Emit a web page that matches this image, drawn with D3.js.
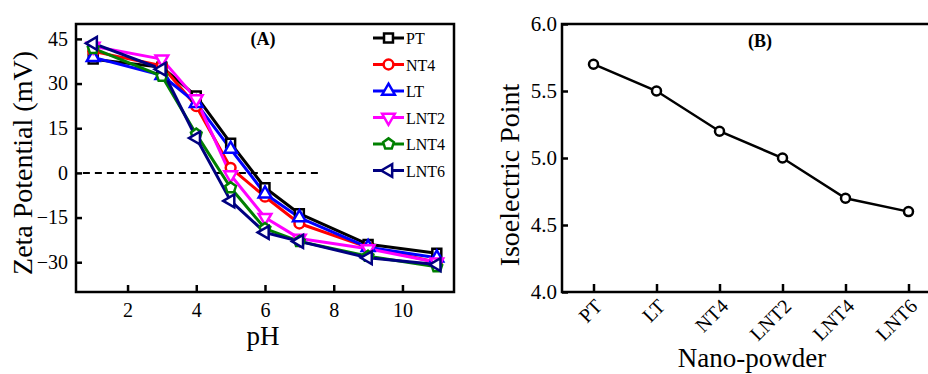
<!DOCTYPE html>
<html>
<head>
<meta charset="utf-8">
<script src="https://cdn.jsdelivr.net/npm/d3@7"></script>
<style>
  body { margin: 0; background: #fff; }
  svg { display: block; font-family: 'Liberation Serif', 'Times New Roman', serif; }
</style>
</head>
<body>
<div id="chart"></div>
<script>
const W = 928;
const H = 374;

// panel A: zeta potential vs pH
const phValues = [1, 3, 4, 5, 6, 7, 9, 11];
const seriesNames = ['PT', 'NT4', 'LT', 'LNT2', 'LNT4', 'LNT6'];
const ptZeta   = [38.2, 35.5, 25.8, 10, -5, -13.7, -24, -27];
const nt4Zeta  = [40.8, 36, 22.4, 1.7, -8, -17, -25, -30];
const ltZeta   = [38.8, 32.8, 23.4, 8, -7, -15, -25, -28.5];
const lnt2Zeta = [42.5, 38.2, 24.8, -0.7, -15, -22, -25.5, -30];
const lnt4Zeta = [41.8, 32.5, 13, -5, -18.7, -23, -28, -31.5];
const lnt6Zeta = [43.5, 34.8, 11.7, -9.4, -20, -23, -28.5, -30.8];
const zetaTicks = [-30, -15, 0, 15, 30, 45];
const phTicks = [2, 4, 6, 8, 10];
const zeroLine = [0.7, 7.6];

// panel B: isoelectric point per powder
const powders = ['PT', 'LT', 'NT4', 'LNT2', 'LNT4', 'LNT6'];
const iepValues = [5.7, 5.5, 5.2, 5.0, 4.7, 4.6];
const iepTicks = [4.0, 4.5, 5.0, 5.5, 6.0];

const colors = ['#000000', '#ff0000', '#0000ff', '#ff00ff', '#008000', '#000080'];

const pentagon = {
  draw(ctx, size) {
    const r = Math.sqrt(size / 2.38);
    for (let i = 0; i < 5; i++) {
      const a = -Math.PI / 2 + i * 2 * Math.PI / 5;
      if (i === 0) ctx.moveTo(r * Math.cos(a), r * Math.sin(a));
      else ctx.lineTo(r * Math.cos(a), r * Math.sin(a));
    }
    ctx.closePath();
  }
};
// symbol type + rotation for each series
const markers = [
  { type: d3.symbolSquare, size: 80, rot: 0 },
  { type: d3.symbolCircle, size: 75, rot: 0 },
  { type: d3.symbolTriangle, size: 70, rot: 0 },
  { type: d3.symbolTriangle, size: 70, rot: 180 },
  { type: pentagon, size: 75, rot: 0 },
  { type: d3.symbolTriangle, size: 70, rot: -90 }
];

const svg = d3.select('#chart')
  .append('svg')
  .attr('width', W)
  .attr('height', H);

// ---------- panel A ----------
const A = { left: 76, top: 24, right: 454, bottom: 292 };
const xA = d3.scaleLinear().domain([0.5, 11.5]).range([A.left, A.right]);
const yA = d3.scaleLinear().domain([-40, 50]).range([A.bottom, A.top]);

const gA = svg.append('g');

gA.append('g')
  .attr('transform', `translate(0,${A.bottom})`)
  .call(d3.axisBottom(xA).tickValues(phTicks).tickSize(-7).tickPadding(11))
  .call(g => g.select('.domain').remove())
  .call(g => g.selectAll('line').attr('stroke-width', 2.5))
  .call(g => g.selectAll('text').attr('font-size', 20).attr('font-family', 'Liberation Serif'));

gA.append('g')
  .attr('transform', `translate(${A.left},0)`)
  .call(d3.axisLeft(yA).tickValues(zetaTicks).tickSize(-6).tickPadding(8))
  .call(g => g.select('.domain').remove())
  .call(g => g.selectAll('line').attr('stroke-width', 2.5))
  .call(g => g.selectAll('text').attr('font-size', 20).attr('font-family', 'Liberation Serif'));

gA.append('line')
  .attr('x1', xA(zeroLine[0])).attr('x2', xA(zeroLine[1]))
  .attr('y1', yA(0)).attr('y2', yA(0))
  .attr('stroke', '#000')
  .attr('stroke-width', 2)
  .attr('stroke-dasharray', '7,5');

const zetaSeries = [ptZeta, nt4Zeta, ltZeta, lnt2Zeta, lnt4Zeta, lnt6Zeta];
const lineA = d3.line().x((d, i) => xA(phValues[i])).y(d => yA(d));

zetaSeries.forEach((vals, s) => {
  gA.append('path')
    .datum(vals)
    .attr('d', lineA)
    .attr('fill', 'none')
    .attr('stroke', colors[s])
    .attr('stroke-width', 3)
    .attr('stroke-linejoin', 'round');
});

zetaSeries.forEach((vals, s) => {
  const m = markers[s];
  gA.selectAll('.mk' + s)
    .data(vals)
    .enter()
    .append('path')
    .attr('class', 'mk' + s)
    .attr('d', d3.symbol().type(m.type).size(m.size))
    .attr('transform', (d, i) => `translate(${xA(phValues[i])},${yA(d)}) rotate(${m.rot})`)
    .attr('fill', '#fff')
    .attr('stroke', colors[s])
    .attr('stroke-width', 2.5);
});

gA.append('rect')
  .attr('x', A.left).attr('y', A.top)
  .attr('width', A.right - A.left).attr('height', A.bottom - A.top)
  .attr('fill', 'none')
  .attr('stroke', '#000')
  .attr('stroke-width', 2.5);

// legend
const legend = gA.append('g');
seriesNames.forEach((name, s) => {
  const y = 38 + s * 26.5;
  const m = markers[s];
  legend.append('line')
    .attr('x1', 373).attr('x2', 404)
    .attr('y1', y).attr('y2', y)
    .attr('stroke', colors[s])
    .attr('stroke-width', 3);
  legend.append('path')
    .attr('d', d3.symbol().type(m.type).size(m.size))
    .attr('transform', `translate(388.5,${y}) rotate(${m.rot})`)
    .attr('fill', '#fff')
    .attr('stroke', colors[s])
    .attr('stroke-width', 2.5);
  legend.append('text')
    .attr('x', 406).attr('y', y + 6)
    .attr('font-size', 16)
    .text(name);
});

gA.append('text')
  .attr('x', 263).attr('y', 45)
  .attr('text-anchor', 'middle')
  .attr('font-size', 18)
  .attr('font-weight', 'bold')
  .text('(A)');

gA.append('text')
  .attr('x', 263).attr('y', 345)
  .attr('text-anchor', 'middle')
  .attr('font-size', 27)
  .text('pH');

gA.append('text')
  .attr('transform', 'translate(32,163) rotate(-90)')
  .attr('text-anchor', 'middle')
  .attr('font-size', 28)
  .text('Zeta Potential (mV)');

// ---------- panel B ----------
const B = { left: 562, top: 24, right: 940, bottom: 292 };
const xB = d3.scalePoint().domain(powders).range([B.left, B.right]).padding(0.5);
const yB = d3.scaleLinear().domain([4, 6]).range([B.bottom, B.top]);

const gB = svg.append('g');

gB.append('g')
  .attr('transform', `translate(0,${B.bottom})`)
  .call(d3.axisBottom(xB).tickSize(-8).tickPadding(6))
  .call(g => g.select('.domain').remove())
  .call(g => g.selectAll('line').attr('stroke-width', 2.5))
  .call(g => g.selectAll('text')
    .attr('font-size', 20)
    .attr('font-family', 'Liberation Serif')
    .attr('text-anchor', 'end')
    .attr('dy', '0.3em')
    .attr('transform', 'translate(1,7) rotate(-45)'));

gB.append('g')
  .attr('transform', `translate(${B.left},0)`)
  .call(d3.axisLeft(yB).tickValues(iepTicks).tickFormat(d3.format('.1f')).tickSize(-6).tickPadding(5))
  .call(g => g.select('.domain').remove())
  .call(g => g.selectAll('line').attr('stroke-width', 2.5))
  .call(g => g.selectAll('text').attr('font-size', 21).attr('font-family', 'Liberation Serif'));

gB.append('path')
  .datum(iepValues)
  .attr('d', d3.line().x((d, i) => xB(powders[i])).y(d => yB(d)))
  .attr('fill', 'none')
  .attr('stroke', '#000')
  .attr('stroke-width', 2.5);

gB.selectAll('circle.iep')
  .data(iepValues)
  .enter()
  .append('circle')
  .attr('class', 'iep')
  .attr('cx', (d, i) => xB(powders[i]))
  .attr('cy', d => yB(d))
  .attr('r', 4.5)
  .attr('fill', '#fff')
  .attr('stroke', '#000')
  .attr('stroke-width', 2.5);

gB.append('rect')
  .attr('x', B.left).attr('y', B.top)
  .attr('width', B.right - B.left).attr('height', B.bottom - B.top)
  .attr('fill', 'none')
  .attr('stroke', '#000')
  .attr('stroke-width', 2.5);

gB.append('text')
  .attr('x', 760).attr('y', 47)
  .attr('text-anchor', 'middle')
  .attr('font-size', 18)
  .attr('font-weight', 'bold')
  .text('(B)');

gB.append('text')
  .attr('transform', 'translate(519,175) rotate(-90)')
  .attr('text-anchor', 'middle')
  .attr('font-size', 28)
  .text('Isoelectric Point');

gB.append('text')
  .attr('x', 752).attr('y', 367)
  .attr('text-anchor', 'middle')
  .attr('font-size', 27)
  .text('Nano-powder');
</script>
</body>
</html>
